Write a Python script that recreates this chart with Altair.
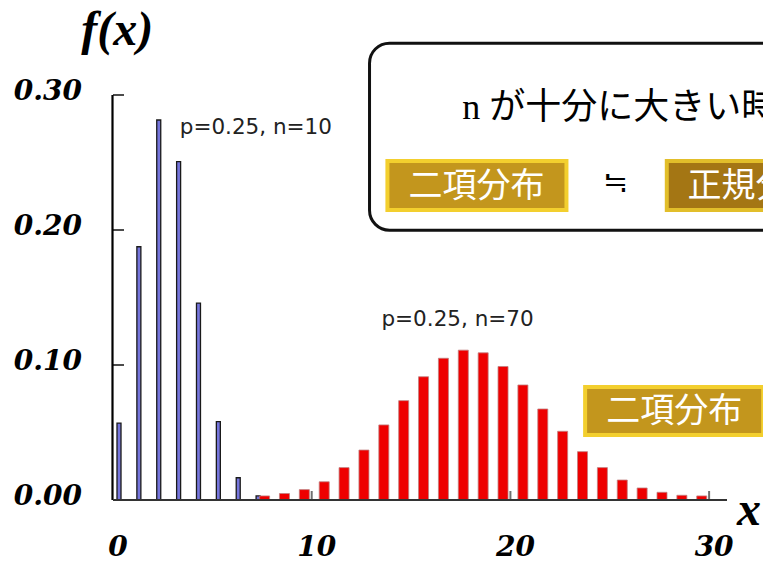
import altair as alt
import pandas as pd

# ---- data ----
blue_k = [0, 1, 2, 3, 4, 5, 6, 7]
blue_p = [0.057, 0.1876, 0.2815, 0.2506, 0.1459, 0.058, 0.0165, 0.003]

red_k = list(range(7, 30))
red_p = [0.003, 0.0048, 0.0077, 0.0135, 0.024, 0.037, 0.0556, 0.0736, 0.0913,
         0.105, 0.111, 0.109, 0.0989, 0.0852, 0.0674, 0.0509, 0.0358, 0.024,
         0.0148, 0.0089, 0.0057, 0.0035, 0.003]

x_ticks = [0, 10, 20, 30]
y_ticks = [0.0, 0.1, 0.2, 0.3]
x_inner_ticks = [10, 20, 30]
y_inner_ticks = [0.1, 0.2, 0.3]
x_max = 30.9

series_labels = ["p=0.25, n=10", "p=0.25, n=70"]
series_label_x = [3.36, 13.51]
series_label_y = [0.2756, 0.1333]

box_x, box_x2, box_y, box_y2 = [12.91], [36.0], [0.3384], [0.19985]
gold_x = [13.81, 23.76]
gold_x2 = [22.82, 32.72]
gold_y = [0.2511, 0.0837]
gold_y2 = [0.2148, 0.0481]
gold_text = ["二項分布", "二項分布"]
gold_tx = [18.29, 28.24]
gold_ty = [0.2322, 0.0652]

dark_x, dark_x2, dark_y, dark_y2 = [27.87], [40.0], [0.2511], [0.2148]
dark_text = ["正規分布"]
dark_tx, dark_ty = [28.91], [0.2322]

head_text = ["n が十分に大きい時"]
head_x, head_y = [17.57], [0.2907]
approx_text = ["≒"]
approx_x, approx_y = [25.3], [0.2348]

fx_text, fx_x, fx_y = ["f(x)"], [-1.6], [0.337]
xl_text, xl_x, xl_y = ["x"], [31.4], [-0.0185]

xs = alt.Scale(domain=[0, x_max], nice=False, zero=False)
ys = alt.Scale(domain=[0, 0.3], nice=False, zero=False)
X = lambda f: alt.X(f, scale=xs, axis=None, title=None)
Y = lambda f: alt.Y(f, scale=ys, axis=None, title=None)

SERIF = "DejaVu Serif"
CJK = "Noto Sans CJK JP"

blue = alt.Chart(pd.DataFrame({"k": blue_k, "p": blue_p})).mark_bar(
    width=4, xOffset=6, fill="#7575DC", stroke="#1a1a1a", strokeWidth=1.3
).encode(x=X("k:Q"), y=Y("p:Q"))

red = alt.Chart(pd.DataFrame({"k": red_k, "p": red_p})).mark_bar(
    width=10, xOffset=12.5, fill="#EE0000", stroke="#c08080", strokeWidth=0.8
).encode(x=X("k:Q"), y=Y("p:Q"))

y_axis = alt.Chart(pd.DataFrame({"a": [0.0], "b": [0.3], "x": [0]})).mark_rule(
    color="black", strokeWidth=2.2, xOffset=-0.5
).encode(x=X("x:Q"), y=Y("a:Q"), y2="b:Q")
x_axis = alt.Chart(pd.DataFrame({"a": [0.0], "b": [x_max], "y": [0]})).mark_rule(
    color="#333333", strokeWidth=2
).encode(x=X("a:Q"), x2="b:Q", y=Y("y:Q"))

ytick_layer = alt.Chart(pd.DataFrame({"v": y_inner_ticks, "x": [0] * 3})).mark_tick(
    orient="horizontal", size=11, thickness=2, xOffset=5.5, color="black"
).encode(x=X("x:Q"), y=Y("v:Q"))
xtick_layer = alt.Chart(pd.DataFrame({"v": x_inner_ticks, "y": [0] * 3})).mark_tick(
    orient="vertical", size=9, thickness=2, yOffset=-4.5, color="#333333"
).encode(x=X("v:Q"), y=Y("y:Q"))

ylab = alt.Chart(pd.DataFrame({"v": y_ticks, "x": [0] * 4,
                               "t": [f"{v:.2f}" for v in y_ticks]})).mark_text(
    font=SERIF, fontSize=28, fontStyle="italic", fontWeight="bold", color="black",
    align="right", baseline="middle", dx=-31, dy=-3
).encode(x=X("x:Q"), y=Y("v:Q"), text="t:N")
xlab = alt.Chart(pd.DataFrame({"v": x_ticks, "y": [0] * 4,
                               "t": [str(v) for v in x_ticks]})).mark_text(
    font=SERIF, fontSize=28, fontStyle="italic", fontWeight="bold", color="black",
    align="center", baseline="middle", dx=5, dy=48
).encode(x=X("v:Q"), y=Y("y:Q"), text="t:N")


def rects(df, **mark):
    return alt.Chart(df).mark_rect(**mark).encode(
        x=X("x:Q"), x2="x2:Q", y=Y("y:Q"), y2="y2:Q")


def texts(df, **mark):
    return alt.Chart(df).mark_text(**mark).encode(x=X("x:Q"), y=Y("y:Q"), text="t:N")


big_box = rects(pd.DataFrame({"x": box_x, "x2": box_x2, "y": box_y, "y2": box_y2}),
                fill="white", stroke="#111111", strokeWidth=3, cornerRadius=20)
gold_boxes = rects(pd.DataFrame({"x": gold_x, "x2": gold_x2, "y": gold_y, "y2": gold_y2}),
                   fill="#C3961D", stroke="#F3CF2E", strokeWidth=4)
dark_box = rects(pd.DataFrame({"x": dark_x, "x2": dark_x2, "y": dark_y, "y2": dark_y2}),
                 fill="#A47614", stroke="#E2BE2A", strokeWidth=4)

gold_labels = texts(pd.DataFrame({"x": gold_tx, "y": gold_ty, "t": gold_text}),
                    font=CJK, fontSize=34, color="white", align="center", baseline="middle")
dark_labels = texts(pd.DataFrame({"x": dark_tx, "y": dark_ty, "t": dark_text}),
                    font=CJK, fontSize=34, color="white", align="left", baseline="middle")
head = texts(pd.DataFrame({"x": head_x, "y": head_y, "t": head_text}),
             font="Liberation Serif, Noto Sans CJK JP", fontSize=36, color="black",
             align="left", baseline="middle")
approx = texts(pd.DataFrame({"x": approx_x, "y": approx_y, "t": approx_text}),
               font=CJK, fontSize=30, color="black", align="center", baseline="middle")
series_txt = texts(pd.DataFrame({"x": series_label_x, "y": series_label_y, "t": series_labels}),
                   font="DejaVu Sans", fontSize=21.5, color="#222222", align="left",
                   baseline="middle")
fx = texts(pd.DataFrame({"x": fx_x, "y": fx_y, "t": fx_text}),
           font="Liberation Serif", fontSize=48, fontStyle="italic", fontWeight="bold",
           color="black", align="left", baseline="alphabetic")
xl = texts(pd.DataFrame({"x": xl_x, "y": xl_y, "t": xl_text}),
           font="Liberation Serif", fontSize=48, fontStyle="italic", fontWeight="bold",
           color="black", align="left", baseline="alphabetic")

chart = alt.layer(
    big_box, gold_boxes, dark_box, blue, red, y_axis, x_axis, ytick_layer, xtick_layer,
    ylab, xlab, gold_labels, dark_labels, head, approx, series_txt, fx, xl
).properties(
    width=624, height=405,
    padding={"left": 100, "top": 87, "right": 31, "bottom": 63},
    autosize=alt.AutoSizeParams(type="none"),
    background="white",
).configure_view(stroke=None)

chart.save("out.html", embed_options={"renderer": "svg", "actions": False})
